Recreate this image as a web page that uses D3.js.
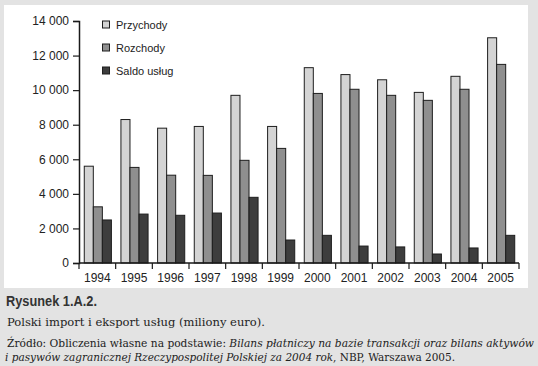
<!DOCTYPE html>
<html><head><meta charset="utf-8">
<script src="https://cdn.jsdelivr.net/npm/d3@7"></script>
<style>
body{margin:0;background:#e3e3e3;}
svg{display:block;}
</style></head>
<body>
<svg id="c" width="538" height="366"></svg>
<script>
const years = ["1994","1995","1996","1997","1998","1999","2000","2001","2002","2003","2004","2005"];
const przychody = [5600, 8300, 7800, 7900, 9700, 7900, 11300, 10900, 10600, 9870, 10800, 13030];
const rozchody  = [3250, 5530, 5080, 5070, 5940, 6630, 9810, 10050, 9700, 9410, 10050, 11490];
const saldo     = [2490, 2830, 2760, 2890, 3800, 1330, 1600, 980, 930, 520, 870, 1600];
const seriesNames = ["Przychody", "Rozchody", "Saldo usług"];
const yTicks = [0, 2000, 4000, 6000, 8000, 10000, 12000, 14000];
const colors = ["#d4d4d4", "#8f8f8f", "#3d3d3d"];

const svg = d3.select("#c");
svg.append("rect").attr("x",0).attr("y",0).attr("width",538).attr("height",366).attr("fill","#e3e3e3");
svg.append("rect").attr("x",4).attr("y",5).attr("width",524).attr("height",283).attr("fill","#ffffff");

const x0 = 79, x1 = 519, yTop = 21, yBot = 263;
const x = d3.scaleBand().domain(years).range([x0, x1]).paddingInner(0.26).paddingOuter(0.13);
const xs = d3.scaleBand().domain(seriesNames).range([0, x.bandwidth()]);
const y = d3.scaleLinear().domain([0, 14000]).range([yBot, yTop]);

const data = [przychody, rozchody, saldo];
const g = svg.append("g");
seriesNames.forEach((s, si) => {
  g.selectAll(".b"+si).data(years).enter().append("rect")
    .attr("x", d => x(d) + xs(s) + 0.5)
    .attr("y", (d,i) => y(data[si][i]))
    .attr("width", xs.bandwidth())
    .attr("height", (d,i) => yBot - y(data[si][i]))
    .attr("fill", colors[si]).attr("stroke", "#1e1e1e").attr("stroke-width", 1);
});

const fmt = v => v === 0 ? "0" : d3.format(",")(v).replace(/,/g, " ");
const yAxis = d3.axisLeft(y).tickValues(yTicks).tickFormat(fmt).tickSize(6).tickPadding(4);
const ya = svg.append("g").attr("transform", `translate(${x0},0)`).call(yAxis);
ya.selectAll("text").attr("font-family","Liberation Sans, Arial, sans-serif").attr("font-size","12px").attr("fill","#222");
ya.select(".domain").attr("stroke","#1a1a1a").attr("stroke-width",1.5);
ya.selectAll(".tick line").attr("stroke","#1a1a1a").attr("stroke-width",1.2);

// x axis with ticks at category boundaries
const xa = svg.append("g");
xa.append("line").attr("x1", x0).attr("x2", x1).attr("y1", yBot).attr("y2", yBot).attr("stroke","#1a1a1a").attr("stroke-width",1.5);
xa.selectAll(".xt").data(d3.range(years.length + 1)).enter().append("line")
  .attr("x1", i => x0 + i*(x1-x0)/years.length).attr("x2", i => x0 + i*(x1-x0)/years.length)
  .attr("y1", yBot).attr("y2", yBot + 6).attr("stroke","#1a1a1a").attr("stroke-width",1.2);
xa.selectAll(".xl").data(years).enter().append("text")
  .attr("x", d => x(d) + x.bandwidth()/2).attr("y", 282)
  .attr("text-anchor","middle").attr("font-family","Liberation Sans, Arial, sans-serif").attr("font-size","12px").attr("fill","#222")
  .text(d => d);

// legend
const lg = svg.append("g");
seriesNames.forEach((s, i) => {
  const cy = 25 + i*23;
  lg.append("rect").attr("x", 102.5).attr("y", cy - 4).attr("width", 7).attr("height", 7)
    .attr("fill", colors[i]).attr("stroke","#1e1e1e").attr("stroke-width",1);
  lg.append("text").attr("x", 116).attr("y", cy + 4).attr("font-family","Liberation Sans, Arial, sans-serif")
    .attr("font-size","11px").attr("fill","#222").text(s);
});

// captions
svg.append("text").attr("x", 6).attr("y", 306).attr("font-family","Liberation Sans Narrow, Liberation Sans, Arial, sans-serif")
  .attr("font-weight","bold").attr("font-size","14.5px").attr("fill","#333")
  .attr("textLength", 91).attr("lengthAdjust","spacingAndGlyphs").text("Rysunek 1.A.2.");
const serif = "DejaVu Serif, Liberation Serif, serif";
svg.append("text").attr("x", 7).attr("y", 326).attr("font-family", serif)
  .attr("font-size","11px").attr("fill","#222")
  .attr("textLength", 258).attr("lengthAdjust","spacingAndGlyphs")
  .text("Polski import i eksport usług (miliony euro).");
const src = svg.append("text").attr("x", 7).attr("y", 347).attr("font-family", serif)
  .attr("font-size","10.5px").attr("fill","#222")
  .attr("textLength", 527).attr("lengthAdjust","spacingAndGlyphs");
src.append("tspan").text("Źródło: Obliczenia własne na podstawie: ");
src.append("tspan").attr("font-style","italic").text("Bilans płatniczy na bazie transakcji oraz bilans aktywów");
const src2 = svg.append("text").attr("x", 5).attr("y", 361).attr("font-family", serif)
  .attr("font-size","10.5px").attr("fill","#222")
  .attr("textLength", 450).attr("lengthAdjust","spacingAndGlyphs");
src2.append("tspan").attr("font-style","italic").text("i pasywów zagranicznej Rzeczypospolitej Polskiej za 2004 rok");
src2.append("tspan").text(", NBP, Warszawa 2005.");
</script>
</body></html>
